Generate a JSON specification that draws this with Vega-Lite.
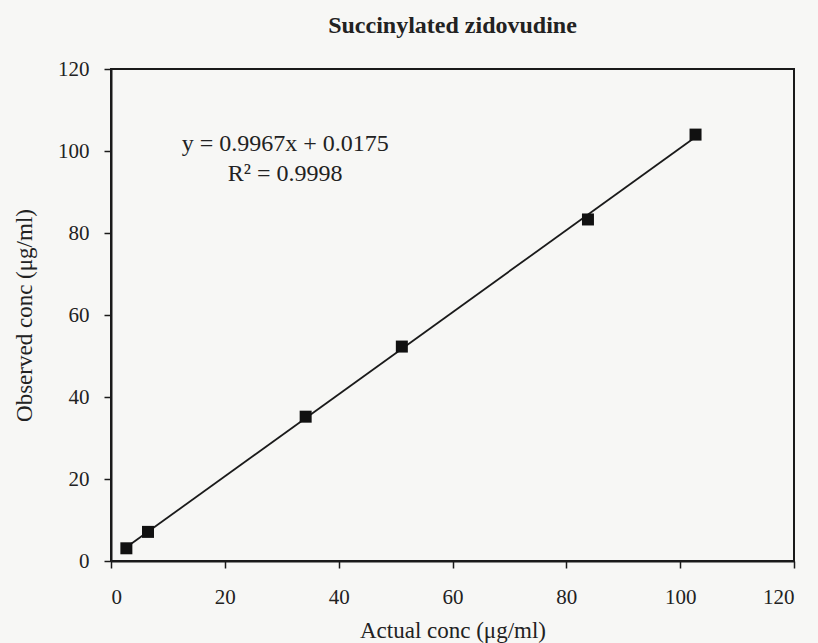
{
  "$schema": "https://vega.github.io/schema/vega-lite/v6.json",
  "width": 683,
  "height": 492,
  "autosize": {"type": "none"},
  "padding": {"left": 111, "top": 69, "right": 24, "bottom": 82},
  "background": "#f7f7f5",
  "title": {
    "text": "Succinylated zidovudine",
    "font": "Liberation Serif",
    "fontSize": 24,
    "fontWeight": "bold",
    "color": "#222222",
    "anchor": "middle",
    "offset": 20
  },
  "config": {
    "view": {"stroke": "#1a1a1a", "strokeWidth": 2},
    "axis": {
      "labelFont": "Liberation Serif",
      "titleFont": "Liberation Serif",
      "labelFontSize": 21,
      "titleFontSize": 23,
      "titleFontWeight": "normal",
      "labelColor": "#222222",
      "titleColor": "#222222",
      "domainColor": "#1a1a1a",
      "domainWidth": 2,
      "tickColor": "#1a1a1a",
      "tickWidth": 1.5,
      "tickSize": 7,
      "grid": false
    }
  },
  "datasets": {
    "points": [
      {"actual": 2.7, "observed": 3.1},
      {"actual": 6.5, "observed": 7.1},
      {"actual": 34.2, "observed": 35.2},
      {"actual": 51.1, "observed": 52.3},
      {"actual": 83.8, "observed": 83.3},
      {"actual": 102.7, "observed": 104.0}
    ],
    "notes": [
      {"actual": 30.6, "observed": 101.8, "text": "y = 0.9967x + 0.0175"},
      {"actual": 30.6, "observed": 94.5, "text": "R² = 0.9998"}
    ]
  },
  "layer": [
    {
      "data": {"name": "points"},
      "transform": [{"regression": "observed", "on": "actual"}],
      "mark": {"type": "line", "color": "#1a1a1a", "strokeWidth": 1.8},
      "encoding": {
        "x": {
          "field": "actual",
          "type": "quantitative",
          "scale": {"domain": [0, 120], "nice": false, "zero": false},
          "axis": {
            "title": "Actual conc (μg/ml)",
            "values": [0, 20, 40, 60, 80, 100, 120],
            "labelPadding": 18,
            "titlePadding": 12
          }
        },
        "y": {
          "field": "observed",
          "type": "quantitative",
          "scale": {"domain": [0, 120], "nice": false, "zero": false},
          "axis": {
            "title": "Observed conc (μg/ml)",
            "values": [0, 20, 40, 60, 80, 100, 120],
            "labelPadding": 15,
            "titlePadding": 21
          }
        }
      }
    },
    {
      "data": {"name": "points"},
      "mark": {"type": "square", "size": 144, "color": "#111111", "opacity": 1, "filled": true},
      "encoding": {
        "x": {"field": "actual", "type": "quantitative"},
        "y": {"field": "observed", "type": "quantitative"}
      }
    },
    {
      "data": {"name": "notes"},
      "mark": {
        "type": "text",
        "font": "Liberation Serif",
        "fontSize": 24,
        "color": "#222222",
        "align": "center",
        "baseline": "middle"
      },
      "encoding": {
        "x": {"field": "actual", "type": "quantitative"},
        "y": {"field": "observed", "type": "quantitative"},
        "text": {"field": "text"}
      }
    }
  ]
}
